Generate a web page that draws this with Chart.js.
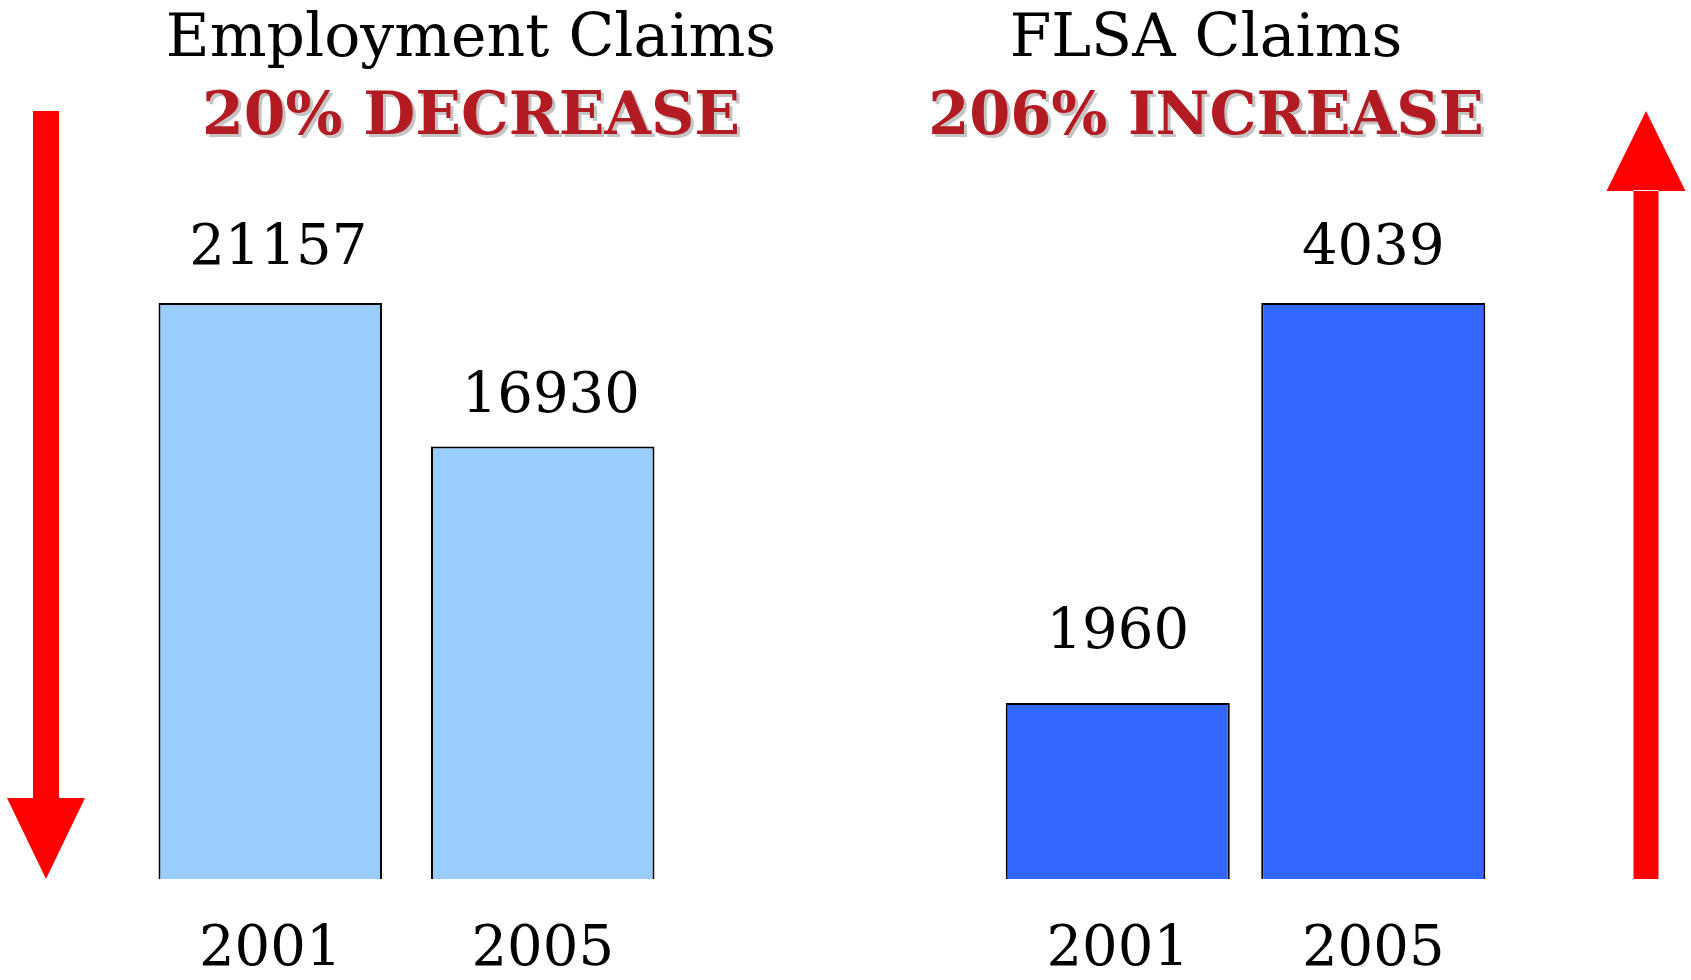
<!DOCTYPE html>
<html>
<head>
<meta charset="utf-8">
<script src="https://cdn.jsdelivr.net/npm/chart.js@4.4.1/dist/chart.umd.min.js"></script>
<style>
  body { margin: 0; background: #fff; }
  #wrap { position: relative; width: 1691px; height: 980px; }
  .panel { position: absolute; top: 0; height: 980px; }
</style>
</head>
<body>
<div id="wrap">
  <div class="panel" style="left:0;width:845px"><canvas id="employmentChart"></canvas></div>
  <div class="panel" style="left:845px;width:846px"><canvas id="flsaChart"></canvas></div>
</div>
<script>
// DATA
const years = ['2001', '2005'];
const employmentClaims = [21157, 16930];
const flsaClaims = [1960, 4039];
const employmentTitle = 'Employment Claims';
const employmentChange = '20% DECREASE';
const flsaTitle = 'FLSA Claims';
const flsaChange = '206% INCREASE';

const serif = '"DejaVu Serif", "Liberation Serif", serif';

//HEADINGS, VALUE LABELS AND ARROW PLUGIN
const claimDecor = {
  id: 'claimDecor',
  afterDatasetsDraw(chart, args, opts) {
    const ctx = chart.ctx;
    const area = chart.chartArea;
    ctx.save();

    // headings
    ctx.textAlign = 'center';
    ctx.textBaseline = 'alphabetic';
    ctx.font = '60px ' + serif;
    ctx.fillStyle = '#000';
    ctx.fillText(opts.title, opts.titleX, 56);
    ctx.font = 'bold ' + opts.changeSize + 'px ' + serif;
    ctx.fillStyle = '#c4c4c4';
    ctx.fillText(opts.change, opts.titleX + 3, 137);
    ctx.fillStyle = '#b31b22';
    ctx.fillText(opts.change, opts.titleX, 134);

    // values above bars
    ctx.font = '56px ' + serif;
    ctx.fillStyle = '#000';
    const values = chart.data.datasets[0].data;
    chart.getDatasetMeta(0).data.forEach((bar, i) => {
      ctx.fillText(String(values[i]), bar.x + opts.labelShift, bar.y - opts.labelGaps[i]);
    });

    // arrow
    const cx = opts.arrowX;
    const top = 111;
    const bottom = area.bottom;
    ctx.fillStyle = '#ff0000';
    ctx.beginPath();
    if (opts.arrow === 'down') {
      const headBase = bottom - 81;
      ctx.rect(cx - 13, top, 26, headBase - top + 1);
      ctx.moveTo(cx - 39, headBase);
      ctx.lineTo(cx + 39, headBase);
      ctx.lineTo(cx, bottom);
    } else {
      const headBase = top + 80;
      ctx.rect(cx - 12.5, headBase - 1, 25, bottom - headBase + 1);
      ctx.moveTo(cx - 39.5, headBase);
      ctx.lineTo(cx + 39.5, headBase);
      ctx.lineTo(cx, top);
    }
    ctx.closePath();
    ctx.fill();

    ctx.restore();
  }
};

//CREATE BAR CHART FUNCTION
function createClaimChart(canvasId, values, fill, yMin, yMax, barPct, padding, decor) {
  const canvas = document.getElementById(canvasId);
  return new Chart(canvas, {
    type: 'bar',
    data: {
      labels: years,
      datasets: [{
        data: values,
        backgroundColor: fill,
        borderColor: '#000',
        borderWidth: 2,
        borderSkipped: false,
        barPercentage: barPct,
        categoryPercentage: 1
      }]
    },
    options: {
      responsive: true,
      maintainAspectRatio: false,
      animation: false,
      layout: { padding: padding },
      plugins: {
        legend: { display: false },
        tooltip: { enabled: false },
        claimDecor: decor
      },
      scales: {
        x: {
          grid: { display: false, drawTicks: false },
          border: { display: false },
          ticks: { color: '#000', padding: 38, font: { family: serif, size: 56 } },
          afterFit: (scale) => { scale.height = 100; }
        },
        y: {
          display: false,
          min: yMin,
          max: yMax
        }
      }
    },
    plugins: [claimDecor]
  });
}

createClaimChart('employmentChart', employmentClaims, '#99ccff', 4200, 21157, 0.82,
  { left: 134, right: 166, top: 303, bottom: 1 },
  { title: employmentTitle, change: employmentChange, changeSize: 60, titleX: 471, arrow: 'down', arrowX: 46, labelGaps: [39, 35], labelShift: 8 });

createClaimChart('flsaChart', flsaClaims, '#3366ff', 1045, 4039, 0.877,
  { left: 145, right: 190, top: 303, bottom: 1 },
  { title: flsaTitle, change: flsaChange, changeSize: 59, titleX: 361, arrow: 'up', arrowX: 801, labelGaps: [55, 39], labelShift: 0 });
</script>
</body>
</html>
